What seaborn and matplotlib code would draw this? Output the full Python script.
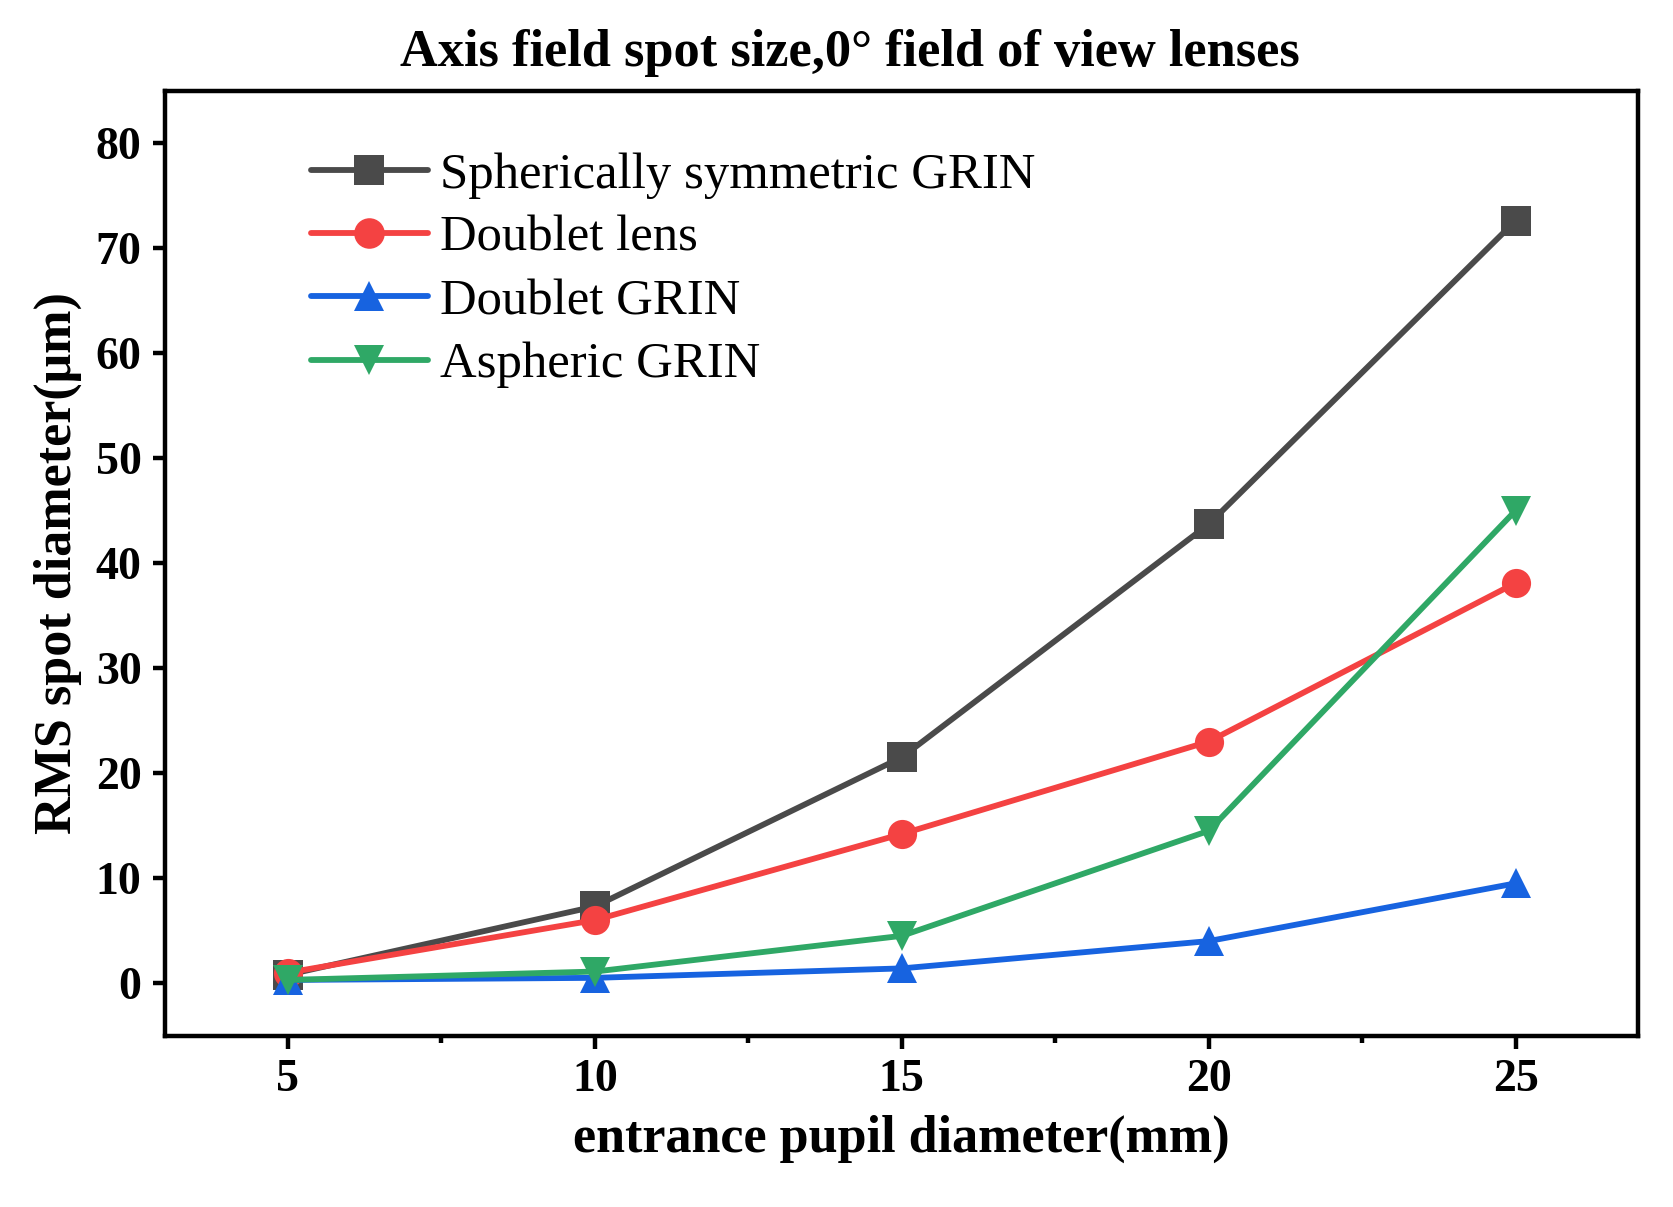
import matplotlib
matplotlib.use("Agg")
import matplotlib.pyplot as plt
import pandas as pd
import seaborn as sns
from matplotlib.ticker import MultipleLocator

pupil_mm = [5, 10, 15, 20, 25]
spherical_grin = [0.8, 7.3, 21.5, 43.7, 72.6]
doublet_lens = [1.0, 6.0, 14.2, 23.0, 38.1]
doublet_grin = [0.3, 0.5, 1.4, 4.0, 9.5]
aspheric_grin = [0.3, 1.1, 4.5, 14.5, 45.0]

series_names = ["Spherically symmetric GRIN", "Doublet lens", "Doublet GRIN", "Aspheric GRIN"]
series_values = [spherical_grin, doublet_lens, doublet_grin, aspheric_grin]
colors = ["#4a4a4a", "#f44242", "#1763e0", "#2fa866"]
markers = ["s", "o", "^", "v"]

rows = []
for name, vals in zip(series_names, series_values):
    for x, y in zip(pupil_mm, vals):
        rows.append({"pupil": x, "rms": y, "lens": name})
df = pd.DataFrame(rows)

sns.set_theme(style="ticks")
plt.rcParams["font.family"] = ["Liberation Serif", "DejaVu Serif"]
plt.rcParams["text.color"] = "black"
plt.rcParams["axes.labelcolor"] = "black"
plt.rcParams["xtick.color"] = "black"
plt.rcParams["ytick.color"] = "black"

fig = plt.figure(figsize=(16.74, 12.07), dpi=100)
ax = fig.add_axes([0.0987, 0.142, 0.880, 0.783])

sns.lineplot(
    data=df, x="pupil", y="rms", hue="lens", style="lens",
    hue_order=series_names, style_order=series_names,
    palette=colors, markers=markers, dashes=False,
    linewidth=4.2, markersize=21, markeredgewidth=0, ax=ax,
)

ax.set_xlim(3, 27)
ax.set_ylim(-5, 85)
ax.xaxis.set_major_locator(MultipleLocator(5))
ax.xaxis.set_minor_locator(MultipleLocator(2.5))
ax.yaxis.set_major_locator(MultipleLocator(10))
ax.yaxis.set_minor_locator(MultipleLocator(5))

for s in ax.spines.values():
    s.set_linewidth(3.2)
    s.set_color("black")
ax.tick_params(which="major", direction="out", length=9, width=3.2, labelsize=33, pad=8)
ax.tick_params(which="minor", direction="out", length=5, width=3.2)
ax.tick_params(axis="y", which="minor", length=0)
for lab in ax.get_xticklabels() + ax.get_yticklabels():
    lab.set_fontweight("bold")

ax.set_xlabel("entrance pupil diameter(mm)", fontsize=37.5, fontweight="bold", labelpad=10)
ax.set_ylabel("RMS spot diameter(\u03bcm)", fontsize=37.5, fontweight="bold", labelpad=10)
ax.set_title("Axis field spot size,0\u00b0 field of view lenses", fontsize=37.7,
             fontweight="bold", pad=18, x=0.465)

leg = ax.legend(loc="upper left", bbox_to_anchor=(0.068, 0.983), frameon=False,
                fontsize=36.5, handlelength=2.3, handletextpad=0.25, labelspacing=0.33)
for h in leg.legend_handles:
    h.set_markersize(22)
    h.set_linewidth(4.2)

fig.savefig("out.png", dpi=100)
